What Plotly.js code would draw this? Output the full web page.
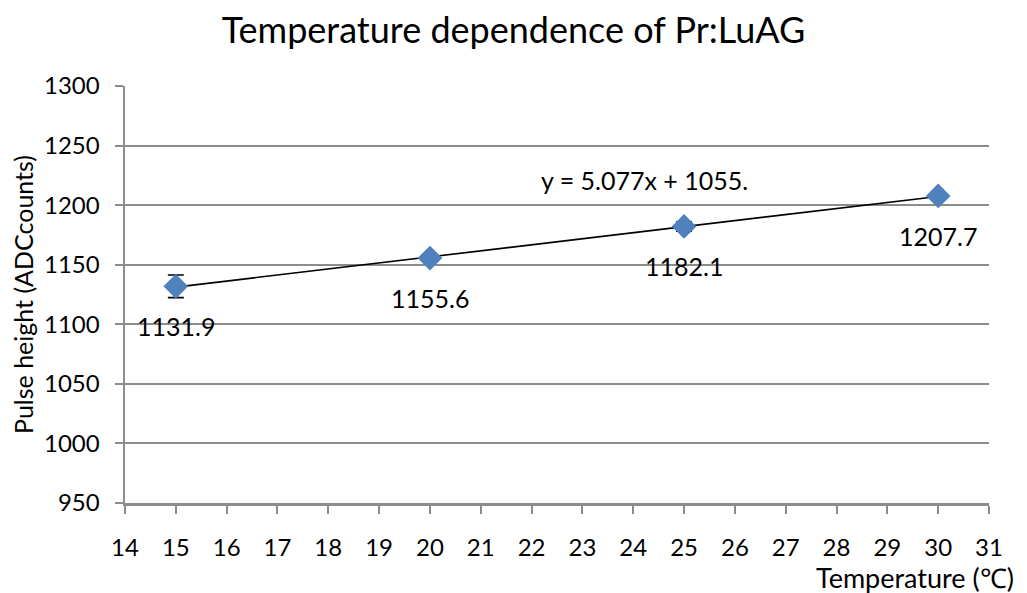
<!DOCTYPE html>
<html><head><meta charset="utf-8">
<script src="https://cdn.plot.ly/plotly-3.0.1.min.js"></script>
<style>body{margin:0}#chart{width:1027px;height:593px}</style>
</head><body><div id="chart"></div>
<script>
const temperature = [15, 20, 25, 30];
const pulseHeight = [1131.9, 1155.6, 1182.1, 1207.7];
const errorBars = [9.5, 2, 4, 1];
const pointLabels = ['1131.9', '1155.6', '1182.1', '1207.7'];
const trendX = [15, 30];
const trendY = [1131.2, 1207.3];
const equationText = 'y = 5.077x + 1055.';
const xTicks = [14,15,16,17,18,19,20,21,22,23,24,25,26,27,28,29,30,31];
const yTicks = [950,1000,1050,1100,1150,1200,1250,1300];

const font = 'Lato, "Open Sans", sans-serif';
const traces = [
  {x: trendX, y: trendY, mode: 'lines', line: {color: '#000', width: 1.6}, hoverinfo: 'skip'},
  {x: temperature, y: pulseHeight, mode: 'markers',
   marker: {symbol: 'diamond', size: 19, color: '#4f81bd', line: {width: 0}},
   error_y: {type: 'data', array: errorBars, visible: true, color: '#000', thickness: 1.6, width: 8}}
];
const annotations = temperature.map((t, i) => ({
  x: t, y: pulseHeight[i], text: pointLabels[i], showarrow: false, yshift: -40,
  font: {family: font, size: 25, color: '#000'}
}));
annotations.push({x: 24.22, y: 1221, text: equationText, showarrow: false,
  font: {family: font, size: 25, color: '#000'}});
annotations.push({xref: 'paper', yref: 'paper', x: 1.031, y: -0.178, xanchor: 'right', yanchor: 'middle',
  text: 'Temperature (℃)', showarrow: false, font: {family: font, size: 27, color: '#000'}});

const layout = {
  width: 1027, height: 593, showlegend: false,
  paper_bgcolor: '#fff', plot_bgcolor: '#fff',
  margin: {l: 125, r: 38, t: 86, b: 90},
  font: {family: font, color: '#000'},
  title: {text: 'Temperature dependence of Pr:LuAG', x: 0.5, xanchor: 'center', y: 0.948, yanchor: 'middle',
    font: {family: font, size: 36, color: '#000'}},
  xaxis: {range: [14, 31], tickvals: xTicks, ticktext: xTicks.map(String), showgrid: false, zeroline: false,
    showline: true, linecolor: '#8c8c8c', linewidth: 2.5, ticks: 'outside', ticklen: 8, tickwidth: 2, tickcolor: '#8c8c8c',
    tickfont: {family: font, size: 24, color: '#000'}, ticklabelstandoff: 14},
  yaxis: {range: [950, 1300], tickvals: yTicks, ticktext: yTicks.map(String), showgrid: true, gridcolor: '#8c8c8c', gridwidth: 2,
    zeroline: false, showline: true, linecolor: '#8c8c8c', linewidth: 2.5, ticks: 'outside', ticklen: 8, tickwidth: 2, tickcolor: '#8c8c8c',
    tickfont: {family: font, size: 24, color: '#000'}, ticklabelstandoff: 10,
    title: {text: 'Pulse height (ADCcounts)', font: {family: font, size: 25, color: '#000'}, standoff: 4}},
  annotations: annotations
};
Plotly.newPlot('chart', traces, layout, {displayModeBar: false, staticPlot: true});
</script></body></html>
